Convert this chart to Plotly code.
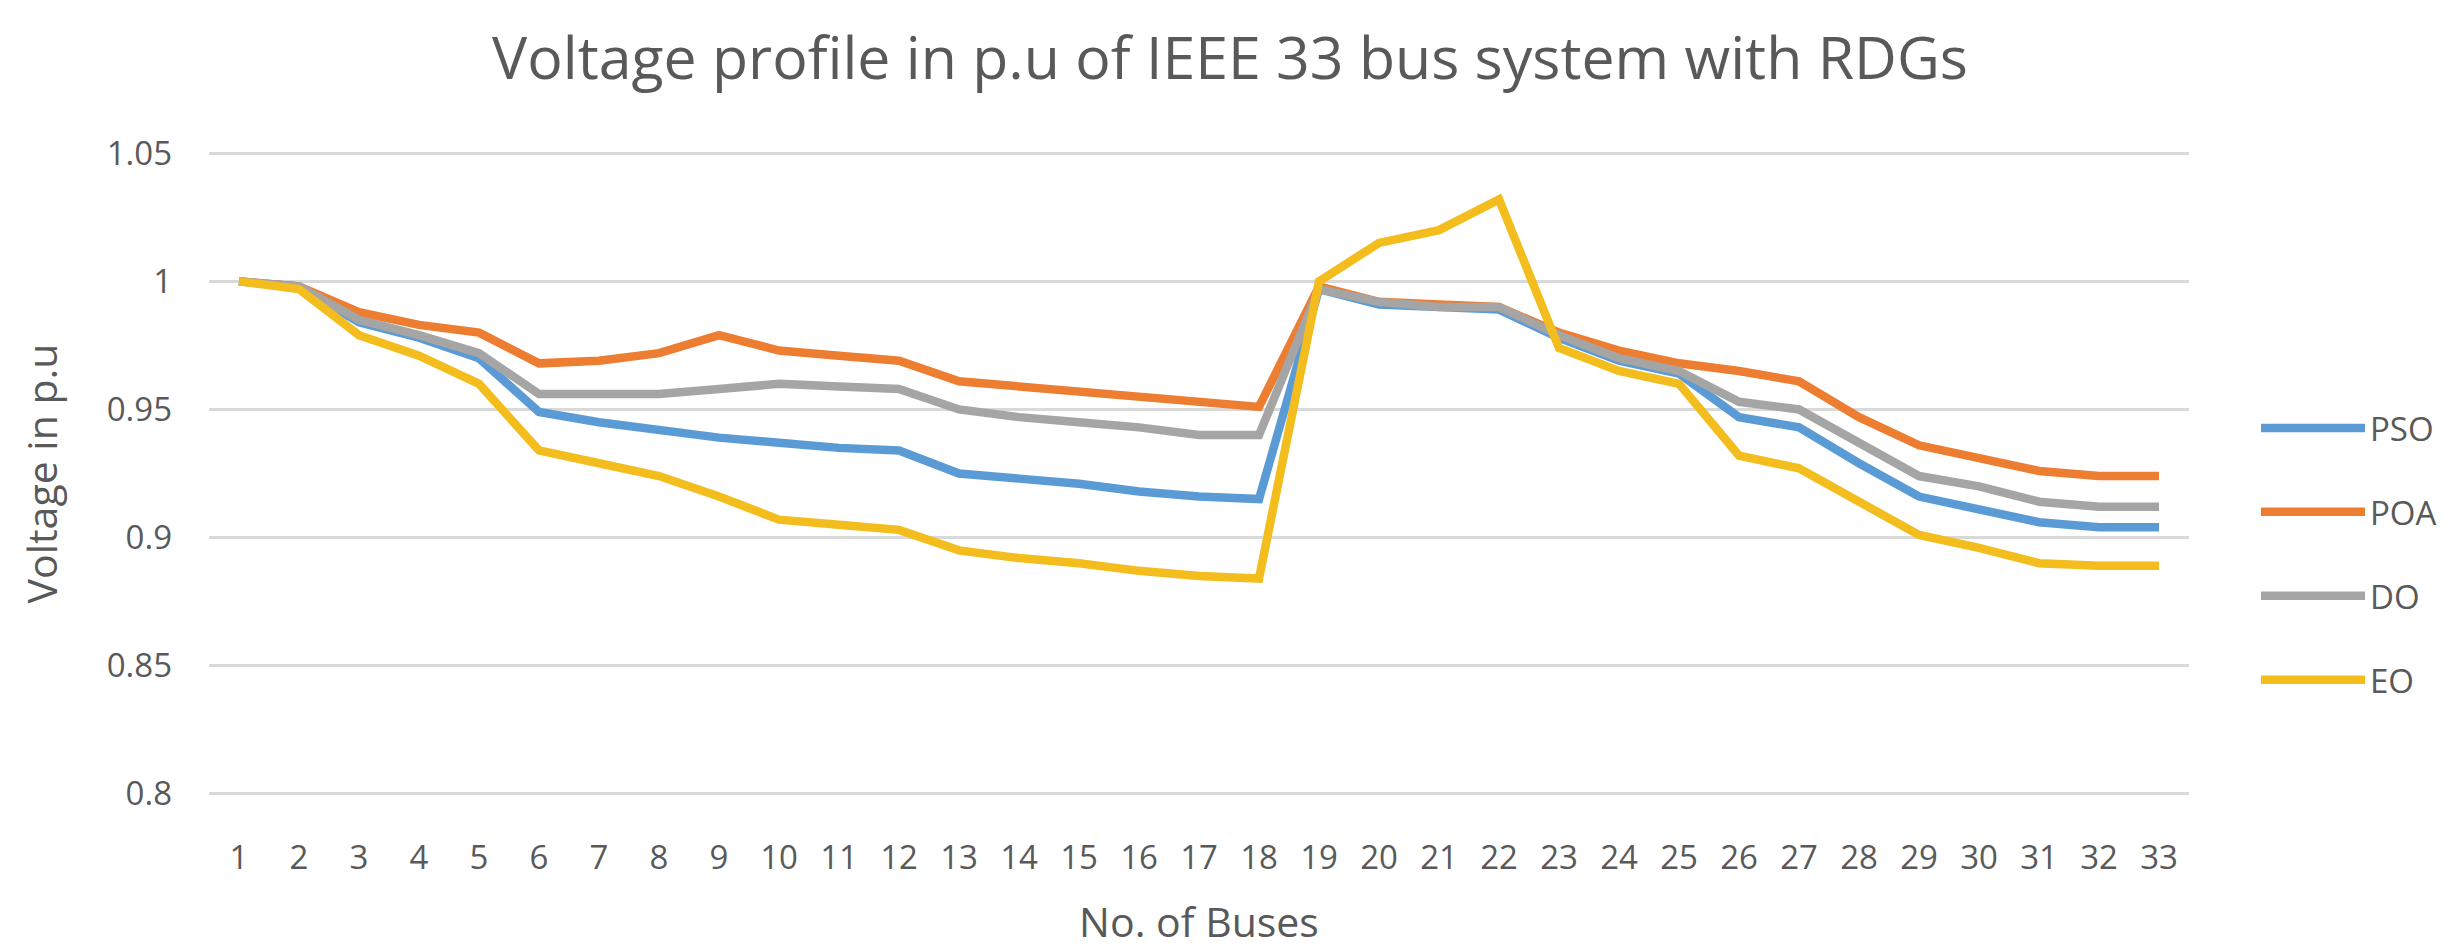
import plotly.graph_objects as go

# Bus numbers of the IEEE 33-bus feeder
buses = list(range(1, 34))

# Bus voltages (p.u) obtained with each optimisation method
pso = [1.000, 0.998, 0.984, 0.978, 0.970, 0.949, 0.945, 0.942, 0.939, 0.937,
       0.935, 0.934, 0.925, 0.923, 0.921, 0.918, 0.916, 0.915, 0.997, 0.991,
       0.990, 0.989, 0.978, 0.969, 0.964, 0.947, 0.943, 0.929, 0.916, 0.911,
       0.906, 0.904, 0.904]
poa = [1.000, 0.998, 0.988, 0.983, 0.980, 0.968, 0.969, 0.972, 0.979, 0.973,
       0.971, 0.969, 0.961, 0.959, 0.957, 0.955, 0.953, 0.951, 0.998, 0.992,
       0.991, 0.990, 0.980, 0.973, 0.968, 0.965, 0.961, 0.947, 0.936, 0.931,
       0.926, 0.924, 0.924]
do = [1.000, 0.998, 0.985, 0.979, 0.972, 0.956, 0.956, 0.956, 0.958, 0.960,
      0.959, 0.958, 0.950, 0.947, 0.945, 0.943, 0.940, 0.940, 0.997, 0.992,
      0.990, 0.990, 0.979, 0.970, 0.965, 0.953, 0.950, 0.937, 0.924, 0.920,
      0.914, 0.912, 0.912]
eo = [1.000, 0.997, 0.979, 0.971, 0.960, 0.934, 0.929, 0.924, 0.916, 0.907,
      0.905, 0.903, 0.895, 0.892, 0.890, 0.887, 0.885, 0.884, 1.000, 1.015,
      1.020, 1.032, 0.974, 0.965, 0.960, 0.932, 0.927, 0.914, 0.901, 0.896,
      0.890, 0.889, 0.889]

series_names = ["PSO", "POA", "DO", "EO"]
series_values = [pso, poa, do, eo]
series_colors = ["#5B9BD5", "#ED7D31", "#A5A5A5", "#F3BD1E"]

y_ticks = [0.8, 0.85, 0.9, 0.95, 1.0, 1.05]
y_tick_text = ["0.8", "0.85", "0.9", "0.95", "1", "1.05"]

FONT = "Open Sans"
TEXT = "#595959"

fig = go.Figure()
for name, vals, col in zip(series_names, series_values, series_colors):
    fig.add_trace(go.Scatter(
        x=buses, y=vals, name=name, mode="lines",
        line=dict(color=col, width=8.5),
        legendgroup=name,
    ))

W, H = 2460, 949
L, R, T, B = 209, 271, 152, 154
PW, PH = W - L - R, H - T - B

fig.update_layout(
    width=W, height=H,
    margin=dict(l=L, r=R, t=T, b=B, autoexpand=False),
    paper_bgcolor="white", plot_bgcolor="white",
    font=dict(family=FONT, color=TEXT, size=32),
    title=dict(
        text="Voltage profile in p.u of IEEE 33 bus system with RDGs",
        x=0.5, xanchor="center", xref="container",
        y=1 - 58 / H, yanchor="middle", yref="container",
        font=dict(family=FONT, size=59, color=TEXT),
    ),
    showlegend=True,
    legend=dict(
        x=(2256 - L) / PW, xanchor="left",
        y=(H - B - 554) / PH, yanchor="middle",
        font=dict(family=FONT, size=33, color=TEXT),
        itemwidth=104,
        tracegroupgap=38,
        bgcolor="rgba(0,0,0,0)",
    ),
)

fig.update_xaxes(
    range=[0.5, 33.5],
    tickmode="array", tickvals=buses, ticktext=[str(b) for b in buses],
    showgrid=False, zeroline=False, showline=False,
    ticks="", ticklabelstandoff=40,
    tickfont=dict(family=FONT, size=33, color=TEXT),
    title=dict(text="No. of Buses", standoff=40,
               font=dict(family=FONT, size=41, color=TEXT)),
    automargin=False,
)
fig.update_yaxes(
    range=[0.7995, 1.0505],
    tickmode="array", tickvals=y_ticks, ticktext=y_tick_text,
    showgrid=True, gridcolor="#D9D9D9", gridwidth=2.5,
    zeroline=False, showline=False,
    ticks="", ticklabelstandoff=36,
    tickfont=dict(family=FONT, size=33, color=TEXT),
    title=dict(text="Voltage in p.u", standoff=36,
               font=dict(family=FONT, size=41, color=TEXT)),
    automargin=False,
)

fig.write_html("out.html")
